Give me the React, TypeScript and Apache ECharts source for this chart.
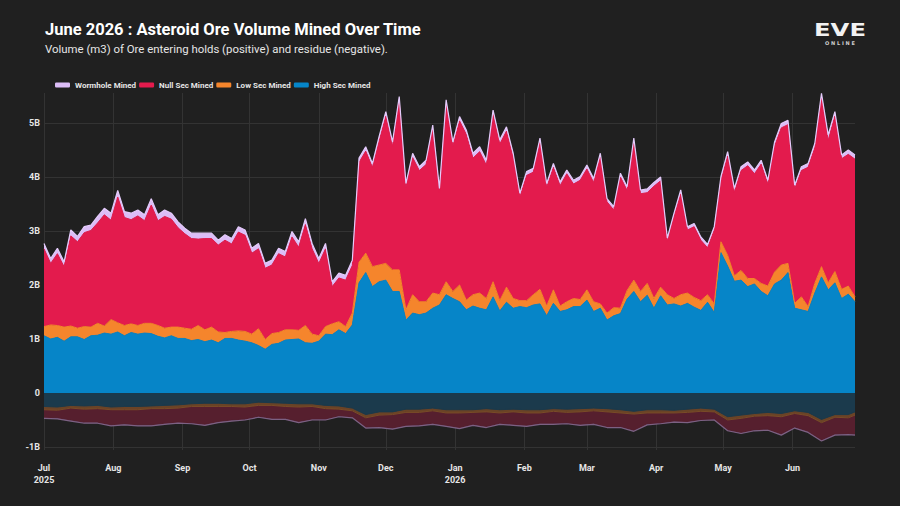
import React, { useEffect, useRef } from "react";
import * as echarts from "echarts";

// Daily samples every 3 days from 2025-07-01 (positive, mined volume, billions m3)
const POS_STEP_DAYS = 3;
const HIGH_SEC = [
  1.06, 1.00, 1.03, 0.96, 1.04, 1.04, 0.99, 1.06, 1.07, 1.11,
  1.09, 1.13, 1.06, 1.12, 1.09, 1.11, 1.10, 1.05, 1.02, 1.06,
  1.01, 1.01, 0.97, 0.99, 0.95, 0.98, 0.93, 1.01, 1.01, 0.98,
  0.96, 0.93, 0.88, 0.81, 0.90, 0.92, 0.98, 0.99, 1.00, 0.93,
  0.92, 0.96, 1.09, 1.08, 1.17, 1.10, 1.26,
  2.04, 2.23, 1.97, 2.06, 2.09, 1.88, 1.88, 1.35, 1.48, 1.45,
  1.48, 1.57, 1.63, 1.82, 1.75, 1.69, 1.54, 1.61, 1.57, 1.54,
  1.78, 1.52, 1.68, 1.57, 1.60, 1.58, 1.63, 1.65, 1.43, 1.66,
  1.51, 1.54, 1.60, 1.60, 1.72, 1.51, 1.57, 1.35, 1.43, 1.47,
  1.74, 1.88, 1.69, 1.81, 1.57, 1.80, 1.63, 1.65, 1.61, 1.66,
  1.59, 1.53, 1.68, 1.49, 2.60, 2.35, 2.07, 2.09, 1.97, 2.02,
  1.88, 1.80, 2.02, 2.09, 2.23, 1.57, 1.54, 1.51, 1.85, 2.15,
  1.91, 2.04, 1.75, 1.83, 1.69,
];
const LOW_SEC = [
  0.17, 0.26, 0.22, 0.26, 0.20, 0.16, 0.24, 0.16, 0.22, 0.13,
  0.27, 0.17, 0.19, 0.16, 0.16, 0.18, 0.19, 0.20, 0.18, 0.16,
  0.21, 0.19, 0.21, 0.26, 0.22, 0.24, 0.20, 0.11, 0.13, 0.17,
  0.18, 0.16, 0.31, 0.18, 0.20, 0.20, 0.19, 0.18, 0.16, 0.32,
  0.17, 0.10, 0.14, 0.20, 0.15, 0.13, 0.22,
  0.38, 0.36, 0.37, 0.31, 0.31, 0.40, 0.40, 0.19, 0.34, 0.24,
  0.21, 0.28, 0.19, 0.24, 0.13, 0.31, 0.18, 0.21, 0.28, 0.21,
  0.28, 0.19, 0.28, 0.18, 0.11, 0.13, 0.19, 0.27, 0.18, 0.25,
  0.10, 0.15, 0.15, 0.13, 0.19, 0.18, 0.08, 0.13, 0.15, 0.10,
  0.16, 0.21, 0.19, 0.22, 0.18, 0.16, 0.19, 0.10, 0.21, 0.19,
  0.18, 0.18, 0.14, 0.16, 0.20, 0.20, 0.10, 0.18, 0.15, 0.10,
  0.15, 0.18, 0.22, 0.28, 0.17, 0.09, 0.24, 0.09, 0.18, 0.19,
  0.13, 0.21, 0.17, 0.15, 0.09,
];
const NULL_SEC = [
  1.44, 1.14, 1.33, 1.12, 1.67, 1.60, 1.74, 1.79, 1.86, 2.06,
  1.84, 2.33, 2.00, 1.93, 2.03, 1.90, 2.19, 1.94, 2.07, 2.00,
  1.84, 1.75, 1.68, 1.60, 1.69, 1.64, 1.61, 1.71, 1.62, 1.83,
  1.78, 1.50, 1.48, 1.32, 1.27, 1.46, 1.35, 1.72, 1.54, 1.87,
  1.58, 1.34, 1.44, 0.69, 0.81, 0.86, 0.88,
  1.85, 1.89, 1.84, 2.30, 2.73, 2.29, 3.13, 2.27, 2.54, 2.43,
  2.54, 3.03, 1.90, 3.29, 2.69, 3.04, 3.07, 2.53, 2.62, 2.47,
  3.10, 2.90, 2.89, 2.61, 1.92, 2.32, 2.27, 2.72, 2.20, 2.27,
  2.23, 2.37, 2.12, 2.21, 2.24, 2.21, 2.72, 2.06, 1.81, 2.43,
  1.85, 2.55, 1.81, 1.68, 2.08, 1.97, 0.99, 1.52, 1.87, 1.17,
  1.31, 1.12, 0.87, 1.37, 1.14, 1.84, 1.55, 1.85, 2.09, 1.94,
  2.21, 1.89, 2.33, 2.54, 2.57, 2.12, 2.34, 2.58, 2.51, 3.13,
  2.64, 2.88, 2.42, 2.44, 2.55,
];
const WORMHOLE = [
  0.10, 0.09, 0.10, 0.09, 0.11, 0.10, 0.11, 0.10, 0.12, 0.12,
  0.13, 0.12, 0.11, 0.12, 0.11, 0.11, 0.12, 0.11, 0.12, 0.11,
  0.11, 0.10, 0.10, 0.11, 0.10, 0.10, 0.09, 0.10, 0.10, 0.10,
  0.10, 0.09, 0.10, 0.09, 0.09, 0.10, 0.10, 0.10, 0.10, 0.11,
  0.10, 0.09, 0.10, 0.09, 0.09, 0.09, 0.10,
  0.08, 0.08, 0.07, 0.08, 0.08, 0.08, 0.08, 0.07, 0.08, 0.07,
  0.08, 0.08, 0.07, 0.08, 0.08, 0.08, 0.08, 0.09, 0.09, 0.09,
  0.08, 0.08, 0.08, 0.08, 0.07, 0.07, 0.07, 0.08, 0.07, 0.07,
  0.07, 0.07, 0.07, 0.07, 0.07, 0.07, 0.07, 0.06, 0.06, 0.07,
  0.07, 0.08, 0.07, 0.07, 0.07, 0.07, 0.06, 0.06, 0.07, 0.06,
  0.06, 0.06, 0.06, 0.06, 0.07, 0.08, 0.07, 0.07, 0.07, 0.07,
  0.07, 0.07, 0.08, 0.08, 0.08, 0.07, 0.07, 0.07, 0.08, 0.08,
  0.10, 0.08, 0.07, 0.08, 0.08,
];

// Residue (negative), sampled every 6 days from 2025-07-01, last on day 363
const NEG_STEP_DAYS = 6;
const LAST_DAY = 363;
const HIGH_SEC_RES = [
  -0.25, -0.26, -0.23, -0.24, -0.23, -0.26, -0.25, -0.25, -0.24, -0.23,
  -0.22, -0.20, -0.19, -0.19, -0.20, -0.20, -0.17, -0.18, -0.19, -0.20,
  -0.20, -0.23, -0.24, -0.28, -0.40, -0.35, -0.35, -0.30, -0.30, -0.28,
  -0.31, -0.31, -0.31, -0.29, -0.31, -0.30, -0.31, -0.31, -0.29, -0.30,
  -0.29, -0.28, -0.29, -0.31, -0.34, -0.31, -0.31, -0.32, -0.30, -0.28,
  -0.30, -0.44, -0.41, -0.38, -0.36, -0.38, -0.33, -0.36, -0.49, -0.40,
  -0.40, -0.35,
];
const LOW_SEC_RES = [
  -0.06, -0.06, -0.05, -0.06, -0.06, -0.05, -0.06, -0.06, -0.05, -0.06,
  -0.06, -0.05, -0.06, -0.06, -0.05, -0.06, -0.06, -0.05, -0.06, -0.06,
  -0.05, -0.06, -0.06, -0.05, -0.06, -0.06, -0.05, -0.06, -0.06, -0.05,
  -0.06, -0.06, -0.05, -0.06, -0.06, -0.05, -0.06, -0.06, -0.05, -0.06,
  -0.06, -0.05, -0.06, -0.06, -0.05, -0.06, -0.06, -0.05, -0.06, -0.06,
  -0.05, -0.06, -0.06, -0.05, -0.06, -0.06, -0.05, -0.06, -0.06, -0.05,
  -0.06, -0.06,
];
const NULL_SEC_RES = [
  -0.14, -0.14, -0.22, -0.24, -0.25, -0.28, -0.26, -0.28, -0.30, -0.27,
  -0.26, -0.30, -0.33, -0.28, -0.25, -0.22, -0.20, -0.24, -0.22, -0.27,
  -0.23, -0.19, -0.12, -0.11, -0.17, -0.21, -0.25, -0.24, -0.23, -0.23,
  -0.23, -0.27, -0.22, -0.27, -0.19, -0.23, -0.23, -0.19, -0.22, -0.19,
  -0.23, -0.23, -0.27, -0.25, -0.30, -0.20, -0.18, -0.15, -0.17, -0.15,
  -0.13, -0.18, -0.26, -0.25, -0.25, -0.32, -0.25, -0.29, -0.32, -0.31,
  -0.29, -0.35,
];
const WORMHOLE_RES = [
  -0.02, -0.02, -0.02, -0.02, -0.02, -0.02, -0.02, -0.02, -0.02, -0.02,
  -0.02, -0.02, -0.02, -0.02, -0.02, -0.02, -0.02, -0.02, -0.02, -0.02,
  -0.02, -0.02, -0.02, -0.02, -0.02, -0.02, -0.02, -0.02, -0.02, -0.02,
  -0.02, -0.02, -0.02, -0.02, -0.02, -0.02, -0.02, -0.02, -0.02, -0.02,
  -0.02, -0.02, -0.02, -0.02, -0.02, -0.02, -0.02, -0.02, -0.02, -0.02,
  -0.02, -0.02, -0.02, -0.02, -0.02, -0.02, -0.02, -0.02, -0.02, -0.02,
  -0.02, -0.02,
];

const MONTH_NAMES = ["Jan", "Feb", "Mar", "Apr", "May", "Jun", "Jul", "Aug", "Sep", "Oct", "Nov", "Dec"];
const X_TICK_MONTH_OFFSETS = [0, 1, 2, 3, 4, 5, 6, 7, 8, 9, 10, 11];
const Y_TICKS = [-1, 0, 1, 2, 3, 4, 5];
const LEGEND_NAMES = ["Wormhole Mined", "Null Sec Mined", "Low Sec Mined", "High Sec Mined"];

const TITLE = "June 2026 : Asteroid Ore Volume Mined Over Time";
const SUBTITLE = "Volume (m3) of Ore entering holds (positive) and residue (negative).";

const FONT = "Roboto";
const DAY_MS = 86400000;
const START = new Date(2025, 6, 1).getTime();

// day offset from 2025-07-01 -> Date
const dayDate = (d: number) => new Date(2025, 6, 1 + Math.round(d));
// month start -> day offset from 2025-07-01
const monthDay = (m: number) => Math.round((new Date(2025, 6 + m, 1).getTime() - START) / DAY_MS);

export default function App() {
  const ref = useRef<HTMLDivElement>(null);

  useEffect(() => {
    if (!ref.current) return;
    const chart = echarts.init(ref.current, null, { renderer: "svg" });

    const posX = HIGH_SEC.map((_, k) => Math.min(k * POS_STEP_DAYS, LAST_DAY));
    const negX = HIGH_SEC_RES.map((_, j) => Math.min(j * NEG_STEP_DAYS, LAST_DAY));
    const monthTicks = X_TICK_MONTH_OFFSETS.map(monthDay);

    // data items are [value, day]; value is the first (stacked) dimension
    const mk = (
      name: string,
      stack: string,
      xs: number[],
      vals: number[],
      area: string,
      line: string,
      lineWidth: number
    ) => ({
      type: "line",
      name,
      stack,
      data: xs.map((x, i) => [vals[i], x]),
      encode: { x: 1, y: 0 },
      showSymbol: false,
      symbol: "none",
      silent: true,
      itemStyle: { color: area },
      lineStyle: { width: lineWidth, color: line },
      areaStyle: { color: area, opacity: 1 },
      emphasis: { disabled: true },
    });

    chart.setOption({
      animation: false,
      backgroundColor: "#202020",
      textStyle: { fontFamily: FONT },
      graphic: [
        {
          type: "text",
          left: 45,
          top: 21,
          style: { text: TITLE, fill: "#ffffff", font: `bold 16.5px ${FONT}` },
        },
        {
          type: "text",
          left: 45,
          top: 43,
          style: { text: SUBTITLE, fill: "#e6e6e6", font: `11.4px ${FONT}` },
        },
        {
          type: "text",
          x: 840,
          y: 30,
          scaleX: 1.35,
          style: {
            text: "EVE",
            fill: "#f2f2f2",
            font: `bold 18px "DejaVu Sans"`,
            align: "center",
            verticalAlign: "middle",
          },
        },
        {
          type: "text",
          x: 840,
          y: 43,
          style: {
            text: "O N L I N E",
            fill: "#cfcfcf",
            font: `bold 5px "DejaVu Sans"`,
            align: "center",
            verticalAlign: "middle",
          },
        },
      ],
      legend: {
        data: LEGEND_NAMES,
        left: 50,
        top: 76,
        icon: "roundRect",
        itemWidth: 15,
        itemHeight: 5,
        itemGap: 3,
        textStyle: { color: "#e6e6e6", fontSize: 8, fontWeight: "bold", fontFamily: FONT },
        selectedMode: false,
      },
      grid: { left: 44, right: 45, top: 93, bottom: 56 },
      xAxis: {
        type: "value",
        min: 0,
        max: LAST_DAY,
        axisLine: { show: false },
        axisTick: { show: false, customValues: monthTicks },
        splitLine: { show: true, lineStyle: { color: "#333333", width: 1 } },
        axisLabel: {
          customValues: monthTicks,
          color: "#e6e6e6",
          fontSize: 9,
          fontWeight: "bold",
          fontFamily: FONT,
          margin: 12,
          lineHeight: 12,
          hideOverlap: false,
          formatter: (v: number) => {
            const d = dayDate(v);
            const m = MONTH_NAMES[d.getMonth()];
            return d.getMonth() === 0 || v === 0 ? `${m}\n${d.getFullYear()}` : m;
          },
        },
      },
      yAxis: {
        type: "value",
        min: -1.056,
        max: 5.556,
        axisLine: { show: false },
        axisTick: { show: false, customValues: Y_TICKS },
        splitLine: { show: true, lineStyle: { color: "#333333", width: 1 } },
        axisLabel: {
          customValues: Y_TICKS,
          color: "#e6e6e6",
          fontSize: 9,
          fontWeight: "bold",
          fontFamily: FONT,
          margin: 4,
          formatter: (v: number) => (v === 0 ? "0" : `${v}B`),
        },
      },
      series: [
        mk("High Sec Mined", "pos", posX, HIGH_SEC, "#0685c8", "#0685c8", 1),
        mk("Low Sec Mined", "pos", posX, LOW_SEC, "#f5852c", "#f5852c", 1),
        mk("Null Sec Mined", "pos", posX, NULL_SEC, "#e31b4d", "#e31b4d", 1),
        mk("Wormhole Mined", "pos", posX, WORMHOLE, "#dcbdf7", "#e4cbfb", 1.2),
        mk("High Sec Residue", "neg", negX, HIGH_SEC_RES, "#1b3a4c", "#1b3a4c", 1),
        mk("Low Sec Residue", "neg", negX, LOW_SEC_RES, "#6a4326", "#7a4c28", 1),
        mk("Null Sec Residue", "neg", negX, NULL_SEC_RES, "#561f2e", "#561f2e", 1),
        mk("Wormhole Residue", "neg", negX, WORMHOLE_RES, "#5e3f5e", "#7c6183", 1.2),
      ],
    });

    return () => chart.dispose();
  }, []);

  return (
    <div
      ref={ref}
      style={{ position: "fixed", left: 0, top: 0, width: 900, height: 506, background: "#202020" }}
    />
  );
}
